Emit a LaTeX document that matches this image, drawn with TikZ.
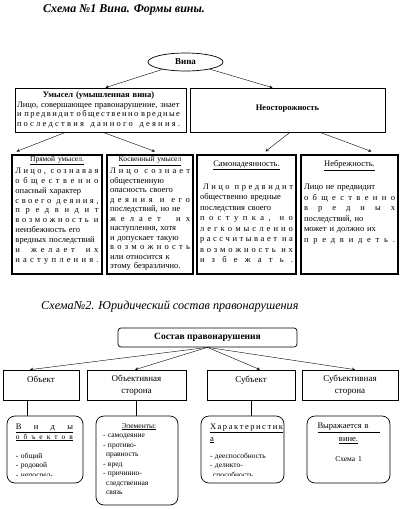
\documentclass[tikz,border=0pt]{standalone}
\usepackage{fontspec}
\setmainfont{Liberation Serif}
\usetikzlibrary{positioning,shapes.geometric}

% one line spread over the whole width / letter-spaced line / centred line
\newcommand{\dl}[1]{\makebox[\linewidth][s]{#1}}
\newcommand{\spaced}[1]{\makebox[\linewidth][s]{\spaceskip=0.4pt plus 1fil\relax #1}}
\newcommand{\cl}[1]{\makebox[\linewidth][c]{#1}}
\newcommand{\hdsmall}{\fontsize{7.5}{9.9}\selectfont}
\newcommand{\hdbig}{\fontsize{8.5}{10}\selectfont}

\tikzset{
  box/.style={draw, line width=0.7pt, inner sep=0pt},
  subbox/.style={draw, line width=1.1pt, inner sep=0pt, minimum height=119pt},
  rbox/.style={draw, line width=0.7pt, rounded corners=8pt, inner sep=0pt},
  txt/.style={inner sep=0pt, text width=#1},
  sidebox/.style={box, minimum height=30pt, align=center, font=\fontsize{9}{12}\selectfont}
}

\begin{document}
\begin{tikzpicture}[x=1pt, y=-1pt, >=stealth]
    \useasboundingbox (0,0) rectangle (408,509);

    % Scheme 1
    \node[anchor=base west, inner sep=0pt, font=\fontsize{12}{12}\selectfont\bfseries\itshape] (title1) at (43,12) {Схема №1 Вина. Формы вины.};

    \node[draw, ellipse, line width=0.7pt, minimum width=75pt, minimum height=18pt, inner sep=0pt, font=\fontsize{9}{9}\selectfont\bfseries] (vina) at (185.5,62) {Вина};

    \node[box, minimum width=171pt, minimum height=44pt] (umysel) at (100.5,110) {};
    \node[txt=163pt, font=\fontsize{8.5}{9.5}\selectfont] (umyseltxt) at (98.5,110) {%
        \cl{\textbf{Умысел (умышленная вина)}}\\
        \dl{Лицо, совершающее правонарушение, знает}\\
        \spaced{и\ \ п р е д в и д и т\ \ о б щ е с т в е н н о\ \ в р е д н ы е}\\
        \spaced{п о с л е д с т в и я\ \ \ д а н н о г о\ \ \ д е я н и я .}};

    \node[box, minimum width=195pt, minimum height=44pt, font=\fontsize{8.5}{9.5}\selectfont\bfseries] (neost) at (287.5,110) {\raisebox{4pt}{Неосторожность}};

    \node[subbox, minimum width=90pt] (pryam) at (57,214.5) {};
    \node[subbox, minimum width=86pt] (kosv) at (150,214.5) {};
    \node[subbox, minimum width=99pt] (samo) at (246.5,214.5) {};
    \node[subbox, minimum width=97pt] (nebr) at (349.5,214.5) {};

    \node[txt=83pt, font=\fontsize{8.5}{9.9}\selectfont, below=1.6pt of pryam.north] (pryamtxt) {%
        \cl{\hdsmall\underline{Прямой умысел.}}\\[2.1pt]
        \spaced{Л и ц о ,\ \ с о з н а в а я}\\
        \spaced{о б щ е с т в е н н о}\\
        \dl{опасный характер}\\
        \spaced{с в о е г о\ \ д е я н и я ,}\\
        \spaced{п р е д в и д и т}\\
        \spaced{в о з м о ж н о с т ь\ \ и}\\
        \dl{неизбежность его}\\
        \dl{вредных последствий}\\
        \spaced{и\ \ \ ж е л а е т\ \ \ и х}\\
        \spaced{н а с т у п л е н и я .}};

    \node[txt=80pt, font=\fontsize{8.5}{9.5}\selectfont, below=1.9pt of kosv.north] (kosvtxt) {%
        \cl{\hdsmall\underline{Косвенный умысел}}\\[2.5pt]
        \spaced{Л и ц о\ \ с о з н а е т}\\
        \dl{общественную}\\
        \dl{опасность своего}\\
        \spaced{д е я н и я\ \ и\ \ е г о}\\
        \dl{последствий, но не}\\
        \spaced{ж е л а е т\ \ \ и х}\\
        \dl{наступления, хотя}\\
        \dl{и допускает такую}\\
        \spaced{в о з м о ж н о с т ь}\\
        \dl{или относится к}\\
        \dl{этому безразлично.}};

    \node[txt=93pt, font=\fontsize{8.5}{10.5}\selectfont, below=6pt of samo.north] (samotxt) {%
        \cl{\hdbig\underline{Самонадеянность.}}\\[2pt]
        \mbox{}\\
        \spaced{\hspace*{3pt}Л и ц о\ \ п р е д в и д и т}\\
        \dl{общественно вредные}\\
        \dl{последствия своего}\\
        \spaced{п о с т у п к а ,\ \ н о}\\
        \spaced{л е г к о м ы с л е н н о}\\
        \spaced{р а с с ч и т ы в а е т\ \ н а}\\
        \spaced{в о з м о ж н о с т ь\ \ и х}\\
        \spaced{и з б е ж а т ь .}};

    \node[txt=91pt, font=\fontsize{8.5}{10.5}\selectfont, below=6pt of nebr.north] (nebrtxt) {%
        \cl{\hdbig\underline{Небрежность.}}\\[2pt]
        \mbox{}\\
        \dl{Лицо не предвидит}\\
        \spaced{о б щ е с т в е н н о}\\
        \spaced{в р е д н ы х}\\
        \dl{последствий, но}\\
        \dl{может и должно их}\\
        \spaced{п р е д в и д е т ь .}};

    \draw[->] (vina) -- ([xshift=5pt]umysel.north);
    \draw[->] (vina) -- ([xshift=-15pt]neost.north);
    \draw[->] ([xshift=-35pt]umysel.south) -- ([xshift=5pt,yshift=3pt]pryam.north west);
    \draw[->] ([xshift=2.5pt]umysel.south) -- ([xshift=5pt,yshift=3pt]kosv.north);
    \draw[->] ([xshift=2.5pt]neost.south) -- ([xshift=19pt,yshift=3pt]samo.north);
    \draw[->] ([xshift=32.5pt]neost.south) -- ([xshift=22pt,yshift=3pt]nebr.north);

    % Scheme 2
    \node[anchor=base west, inner sep=0pt, font=\fontsize{12.2}{12}\selectfont\itshape] (title2) at (41,309) {Схема№2. Юридический состав правонарушения};

    \node[box, rounded corners=3pt, minimum width=179pt, minimum height=19pt, font=\fontsize{9.5}{9.5}\selectfont\bfseries] (sostav) at (207.5,337.5) {Состав правонарушения};

    \node[sidebox, minimum width=76pt] (obj) at (41,385) {Объект\\ \mbox{}};
    \node[sidebox, minimum width=99pt] (obstor) at (136.5,385) {Объективная\\ сторона};
    \node[sidebox, minimum width=88pt] (subj) at (251,385) {Субъект\\ \mbox{}};
    \node[sidebox, minimum width=96pt] (subjstor) at (350,385) {Субъективная\\ сторона};

    \draw[->] (sostav.south) -- ([xshift=-11pt]obj.north);
    \draw[->] (sostav.south) -- ([xshift=-1.5pt]obstor.north);
    \draw[->] (sostav.south) -- ([xshift=9pt]subj.north);
    \draw[->] (sostav.south) -- ([xshift=5pt]subjstor.north);

    \node[rbox, minimum width=76pt, minimum height=67pt] (vidy) at (45,449.5) {};
    \node[rbox, minimum width=82pt, minimum height=89pt] (elem) at (137,460.5) {};
    \node[rbox, minimum width=83pt, minimum height=67pt] (har) at (242.5,449.5) {};
    \node[rbox, minimum width=83pt, minimum height=67pt] (vyr) at (348.5,449.5) {};

    \draw ([xshift=-14pt]obj.south) -- ([xshift=-14pt]obj.south |- vidy.north);
    \draw (obstor.south) -- (obstor.south |- elem.north);
    \draw (subj.south) -- (subj.south |- har.north);

    \begin{scope}
        \clip (0,416) rectangle (408,475.5);
        \node[txt=57pt, anchor=north, font=\fontsize{7.5}{9.5}\selectfont] (vidytxt) at (44.5,423.3) {%
            \underline{\spaced{\hdbig В\ и\ д\ ы}}\\[0.5pt]
            \underline{\spaced{о б ъ е к т о в}}\\[9.5pt]
            - общий\\
            - родовой\\
            - непосред-};
        \node[txt=73pt, anchor=north, font=\fontsize{7.5}{9.5}\selectfont] (hartxt) at (246.5,423.3) {%
            \underline{\spaced{\hdbig Х а р а к т е р и с т и к}}\\[2.5pt]
            \underline{\hdbig а}\\[7.5pt]
            - дееспособность\\
            - деликто-\\
            \hspace*{3pt}способность};
    \end{scope}

    \node[txt=72pt, anchor=north, font=\fontsize{7.5}{9.5}\selectfont] (elemtxt) at (139,422.9) {%
        \cl{\underline{Элементы:}}\\
        - самодеяние\\
        - противо-\\
        \hspace*{3pt}правность\\
        - вред\\
        - причинно-\\
        \hspace*{3pt}следственная\\
        \hspace*{3pt}связь};

    \node[txt=70pt, anchor=north, align=center, font=\fontsize{8.5}{10}\selectfont] (vyrtxt) at (348.5,423) {%
        \underline{\makebox[62pt][s]{Выражается в}}\\[3pt]
        \underline{вине.}\\[10pt]
        {\fontsize{7.5}{10}\selectfont Схема 1}};
\end{tikzpicture}
\end{document}
